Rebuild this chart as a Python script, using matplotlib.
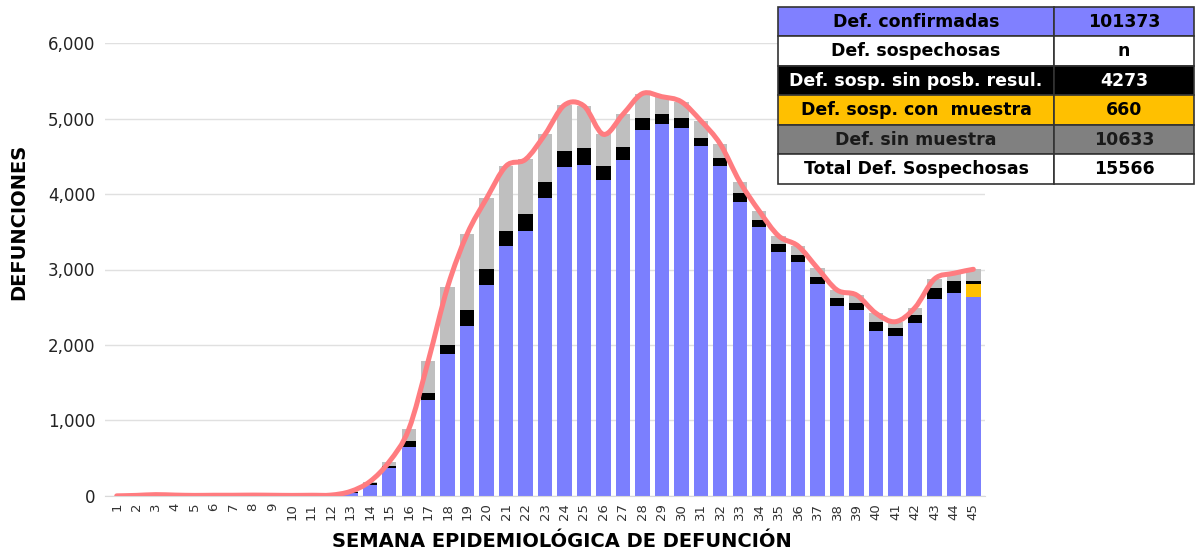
import matplotlib.pyplot as plt
import numpy as np
from matplotlib.path import Path
from matplotlib.patches import PathPatch

# semanas epidemiologicas 1..45
semanas = list(range(1, 46))

# defunciones confirmadas (azul)
confirmadas = [2, 8, 18, 12, 8, 10, 10, 12, 10, 8, 10, 12,
               45, 146, 367, 653, 1272, 1876, 2256, 2795, 3315, 3510,
               3951, 4362, 4380, 4185, 4450, 4850, 4927, 4870, 4636, 4375,
               3898, 3559, 3236, 3103, 2808, 2517, 2464, 2190, 2119, 2295,
               2609, 2693, 2640]
# sospechosas con muestra (amarillo)
con_muestra = [0]*44 + [164]
# sospechosas sin posibilidad de resultado (negro)
sin_resultado = [0]*12 + [5, 30, 30, 71, 96, 119, 208, 208, 199, 225,
                          212, 203, 229, 182, 177, 152, 128, 132, 101, 106,
                          111, 97, 102, 95, 97, 101, 96, 119, 110, 102,
                          142, 159, 48]
# sin muestra (gris)
sin_muestra = [0]*12 + [10, 14, 58, 159, 420, 777, 1006, 940, 857, 724,
                        627, 614, 557, 423, 428, 328, 234, 220, 234, 181,
                        154, 119, 106, 113, 111, 110, 102, 111, 80, 97,
                        123, 98, 151]

y_ticks = [0, 1000, 2000, 3000, 4000, 5000, 6000]

tabla_etiquetas = ['Def. confirmadas', 'Def. sospechosas', 'Def. sosp. sin posb. resul.',
                   'Def. sosp. con  muestra', 'Def. sin muestra', 'Total Def. Sospechosas']
tabla_valores = ['101373', 'n', '4273', '660', '10633', '15566']
tabla_colores = ['#8080ff', 'white', 'black', '#ffc000', '#808080', 'white']
tabla_texto = ['black', 'black', 'white', 'black', '#1a1a1a', 'black']

azul = '#7b7ffe'
gris = '#bfbfbf'
amarillo = '#ffc000'
rojo = '#ff7c80'

plt.rcParams['font.family'] = 'DejaVu Sans'

fig = plt.figure(figsize=(11.95, 5.5), dpi=100)
ax = fig.add_axes([0.0879, 0.0982, 0.7364, 0.8236])

x = np.array(semanas, dtype=float)
b1 = np.array(confirmadas, dtype=float)
b2 = b1 + np.array(con_muestra)
b3 = b2 + np.array(sin_resultado)
tot = b3 + np.array(sin_muestra)

w = 0.74
ax.bar(x, confirmadas, w, color=azul, zorder=2)
ax.bar(x, con_muestra, w, bottom=b1, color=amarillo, zorder=2)
ax.bar(x, sin_resultado, w, bottom=b2, color='black', zorder=2)
ax.bar(x, sin_muestra, w, bottom=b3, color=gris, zorder=2)

# linea suavizada (bezier tipo excel) sobre los totales
pts = np.column_stack([x, tot])
verts = [pts[0]]
codes = [Path.MOVETO]
for i in range(len(pts) - 1):
    p0 = pts[i - 1] if i > 0 else pts[i]
    p1, p2 = pts[i], pts[i + 1]
    p3 = pts[i + 2] if i + 2 < len(pts) else pts[i + 1]
    c1 = p1 + (p2 - p0) / 6
    c2 = p2 - (p3 - p1) / 6
    verts += [c1, c2, p2]
    codes += [Path.CURVE4] * 3
ax.add_patch(PathPatch(Path(verts, codes), fill=False, ec=rojo, lw=3.6,
                       zorder=5, capstyle='round'))

ax.set_xlim(0.4, 45.6)
ax.set_ylim(0, 6000)
ax.set_yticks(y_ticks)
ax.set_yticklabels(['{:,}'.format(v) for v in y_ticks], fontsize=12, color='#222222')
ax.set_xticks(semanas)
ax.set_xticklabels([str(s) for s in semanas], rotation=90, fontsize=9.5, color='#333333')
ax.tick_params(axis='both', length=0, pad=7)
ax.tick_params(axis='x', pad=5)
ax.grid(axis='y', color='#e0e0e0', lw=1, zorder=0)
ax.set_axisbelow(True)
for s in ['top', 'right', 'left']:
    ax.spines[s].set_visible(False)
ax.spines['bottom'].set_color('#d9d9d9')

fig.text(0.47, 0.016, 'SEMANA EPIDEMIOLÓGICA DE DEFUNCIÓN', ha='center', va='center',
         fontsize=14, fontweight='bold')
fig.text(0.016, 0.596, 'DEFUNCIONES', rotation=90, ha='center', va='center',
         fontsize=14, fontweight='bold')

# tabla de resumen
tx = fig.add_axes([0.651, 0.6655, 0.348, 0.3218])
tx.axis('off')
cell_text = [[a, b] for a, b in zip(tabla_etiquetas, tabla_valores)]
cell_cols = [[c, c] for c in tabla_colores]
tbl = tx.table(cellText=cell_text, cellColours=cell_cols, colWidths=[0.664, 0.336],
               cellLoc='center', bbox=[0, 0, 1, 1])
tbl.auto_set_font_size(False)
for (r, c), cell in tbl.get_celld().items():
    cell.set_edgecolor('#333333')
    cell.set_linewidth(1.2)
    cell.get_text().set_fontsize(12.5)
    cell.get_text().set_fontweight('bold')
    cell.get_text().set_color(tabla_texto[r])

fig.savefig('out.png', dpi=100)
